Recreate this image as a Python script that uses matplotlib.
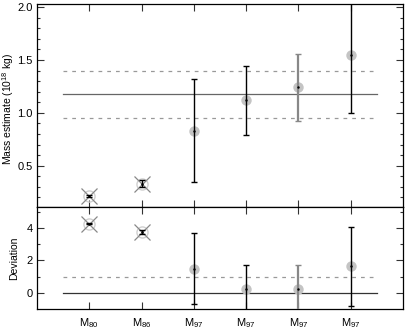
import matplotlib
matplotlib.use("Agg")
import matplotlib.pyplot as plt
import numpy as np
from matplotlib.ticker import MultipleLocator

# data
labels = ["M$_{80}$", "M$_{86}$", "M$_{97}$", "M$_{97}$", "M$_{97}$", "M$_{97}$"]
mass = [0.21, 0.33, 0.83, 1.12, 1.24, 1.55]
mass_lo = [0.20, 0.30, 0.35, 0.79, 0.92, 1.00]
mass_hi = [0.22, 0.36, 1.32, 1.44, 1.56, 2.10]
dev = [4.26, 3.75, 1.50, 0.27, 0.27, 1.64]
dev_lo = [4.22, 3.65, -0.65, -1.50, -1.50, -0.78]
dev_hi = [4.30, 3.85, 3.69, 1.70, 1.70, 4.08]
rejected = [True, True, False, False, False, False]
grey_bar = [False, False, False, False, True, False]

mean_mass = 1.175
band_lo, band_hi = 0.95, 1.40
dev_ref = 0.0
dev_limit = 1.0

plt.rcParams["font.family"] = ["Liberation Sans", "DejaVu Sans"]
plt.rcParams["font.size"] = 8
plt.rcParams["mathtext.fontset"] = "custom"
plt.rcParams["mathtext.rm"] = "Liberation Sans"
plt.rcParams["mathtext.it"] = "Liberation Sans"

fig = plt.figure(figsize=(4.07, 3.30), dpi=100)
ax1 = fig.add_axes([0.091, 0.373, 0.899, 0.615])
ax2 = fig.add_axes([0.091, 0.064, 0.899, 0.309], sharex=ax1)

x = np.arange(1, len(labels) + 1)


def draw_points(ax, vals, lo, hi):
    for xi, v, l, h, rej, gb in zip(x, vals, lo, hi, rejected, grey_bar):
        col = "#888888" if gb else "black"
        lw = 1.6 if gb else 1.0
        ax.errorbar([xi], [v], yerr=[[v - l], [h - v]], fmt="none",
                    ecolor=col, elinewidth=lw, capsize=2.5, capthick=1.0,
                    zorder=3)
        if rej:
            ax.plot(xi, v, "o", ms=8, mfc="none", mec="#d0d0d0", mew=1.0,
                    zorder=2)
            ax.plot(xi, v, "x", ms=11, color="#888888", mew=0.9, zorder=2)
        else:
            ax.plot(xi, v, "o", ms=7.5, color="#c4c4c4", mec="none",
                    zorder=2)
        ax.plot(xi, v, ".", ms=1.5, color="black", zorder=4)


xs = [0.5, 6.5]
ax1.plot(xs, [mean_mass] * 2, color="#666666", lw=0.9)
ax1.plot(xs, [band_hi] * 2, color="#999999", lw=0.9, ls=(0, (3, 4)))
ax1.plot(xs, [band_lo] * 2, color="#999999", lw=0.9, ls=(0, (3, 4)))
draw_points(ax1, mass, mass_lo, mass_hi)

ax2.plot(xs, [dev_ref] * 2, color="#333333", lw=0.9)
ax2.plot(xs, [dev_limit] * 2, color="#999999", lw=0.9, ls=(0, (3, 4)))
draw_points(ax2, dev, dev_lo, dev_hi)

ax1.set_xlim(0, 7)
ax1.set_ylim(0.11, 2.03)
ax2.set_ylim(-0.98, 5.3)

ax1.yaxis.set_major_locator(MultipleLocator(0.5))
ax1.yaxis.set_minor_locator(MultipleLocator(0.1))
ax2.yaxis.set_major_locator(MultipleLocator(2))
ax2.yaxis.set_minor_locator(MultipleLocator(1))
ax1.yaxis.set_major_formatter(plt.FuncFormatter(lambda v, p: f"{v:.1f}"))

ax2.set_xticks(x)
ax2.set_xticklabels(labels)
plt.setp(ax1.get_xticklabels(), visible=False)

for ax in (ax1, ax2):
    ax.tick_params(which="both", direction="in", top=True, right=True,
                   width=0.8, color="#333333", pad=3)
    ax.tick_params(which="major", length=5)
    ax.tick_params(which="minor", length=2.5)
    for s in ax.spines.values():
        s.set_linewidth(0.9)
ax2.tick_params(axis="x", pad=5)

ax1.set_ylabel("Mass estimate (10$^{18}$ kg)", fontsize=7.5)
ax2.set_ylabel("Deviation", fontsize=7.5)
ax1.yaxis.set_label_coords(-0.058, 0.48)
ax2.yaxis.set_label_coords(-0.05, 0.5)

fig.savefig("out.png", dpi=100)
